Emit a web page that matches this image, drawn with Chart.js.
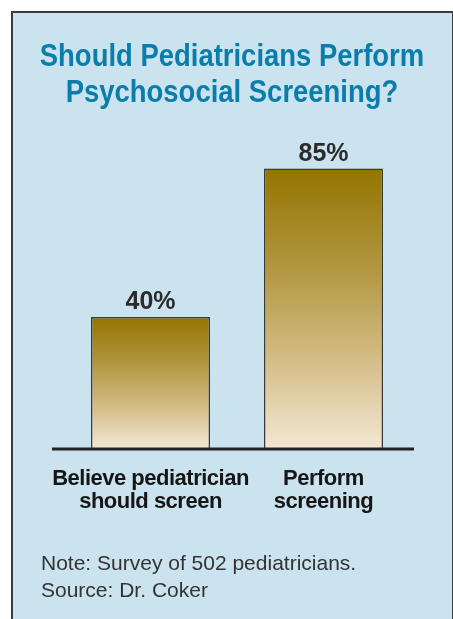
<!DOCTYPE html>
<html>
<head>
<meta charset="utf-8">
<script src="https://cdn.jsdelivr.net/npm/chart.js@4/dist/chart.umd.min.js"></script>
<style>
  html, body { margin: 0; padding: 0; background: #ffffff; }
  body { width: 453px; height: 619px; position: relative; overflow: hidden; font-family: "Liberation Sans", Arial, sans-serif; }
  #panel { position: absolute; left: 11px; top: 11px; width: 439px; height: 620px;
           background: #cae3ee; border: 2px solid #3c3c3c; border-bottom: none; }
  #chartwrap { position: absolute; left: 0; top: 0; width: 453px; height: 619px; }
  #title { position: absolute; left: 0; top: 36.5px; width: 464px; text-align: center;
           font-weight: bold; font-size: 30.5px; line-height: 36px; color: #0b7dab;
           transform: scaleX(0.9); transform-origin: 232px 0; white-space: nowrap; }
  #note { position: absolute; left: 41px; top: 548.5px; font-size: 21px; line-height: 27px; color: #333333; white-space: nowrap; }
</style>
</head>
<body>
<div id="panel"></div>
<div id="chartwrap"><canvas id="c" width="453" height="619"></canvas></div>
<div id="title">Should Pediatricians Perform<br>Psychosocial Screening?</div>
<div id="note">Note: Survey of 502 pediatricians.<br>Source: Dr. Coker</div>
<script>
const categories = [["Believe pediatrician", "should screen"], ["Perform", "screening"]];
const values = [40, 85];
const valueLabels = ["40%", "85%"];

function barGradient(ctx) {
  const chart = ctx.chart;
  const area = chart.chartArea;
  if (!area || ctx.raw === undefined) return '#c7ac6c';
  const top = chart.scales.y.getPixelForValue(ctx.raw);
  const g = chart.ctx.createLinearGradient(0, top, 0, area.bottom);
  g.addColorStop(0, '#937500');
  g.addColorStop(0.35, '#b1963f');
  g.addColorStop(0.7, '#d6bf8b');
  g.addColorStop(1, '#f3e8d5');
  return g;
}

const spacingPlugin = {
  id: 'spacing',
  beforeDraw(chart) { chart.ctx.letterSpacing = '-0.5px'; },
  afterDraw(chart) { chart.ctx.letterSpacing = '0px'; }
};

const baselinePlugin = {
  id: 'baseline',
  afterDatasetsDraw(chart) {
    const ctx = chart.ctx;
    const area = chart.chartArea;
    const y = chart.scales.y.getPixelForValue(0);
    ctx.save();
    ctx.strokeStyle = '#222222';
    ctx.lineWidth = 3;
    ctx.beginPath();
    ctx.moveTo(area.left - 12, y);
    ctx.lineTo(area.right + 4, y);
    ctx.stroke();
    ctx.letterSpacing = '0px';
    ctx.fillStyle = '#2b2b2b';
    ctx.font = 'bold 25px "Liberation Sans", Arial, sans-serif';
    ctx.textAlign = 'center';
    ctx.textBaseline = 'alphabetic';
    const meta = chart.getDatasetMeta(0);
    meta.data.forEach((bar, i) => {
      ctx.fillText(valueLabels[i], bar.x, bar.y - 8);
    });
    ctx.restore();
  }
};

new Chart(document.getElementById('c'), {
  type: 'bar',
  data: {
    labels: categories,
    datasets: [{
      data: values,
      backgroundColor: barGradient,
      borderColor: '#3a3a3a',
      borderWidth: 1.5,
      borderSkipped: 'bottom',
      barPercentage: 0.688,
      categoryPercentage: 1.0
    }]
  },
  options: {
    responsive: false,
    animation: false,
    devicePixelRatio: 1,
    layout: { padding: { top: 119, left: 64, right: 43, bottom: 90 } },
    plugins: { legend: { display: false }, title: { display: false }, tooltip: { enabled: false } },
    scales: {
      y: { display: false, min: 0, max: 100 },
      x: {
        grid: { display: false, drawTicks: false },
        border: { display: false },
        ticks: {
          color: '#161616',
          padding: 18,
          maxRotation: 0,
          autoSkip: false,
          font: { family: '"Liberation Sans", Arial, sans-serif', size: 22, weight: 'bold', lineHeight: '23.4px' }
        },
        afterFit(scale) { scale.height = 80; }
      }
    }
  },
  plugins: [spacingPlugin, baselinePlugin]
});
</script>
</body>
</html>
